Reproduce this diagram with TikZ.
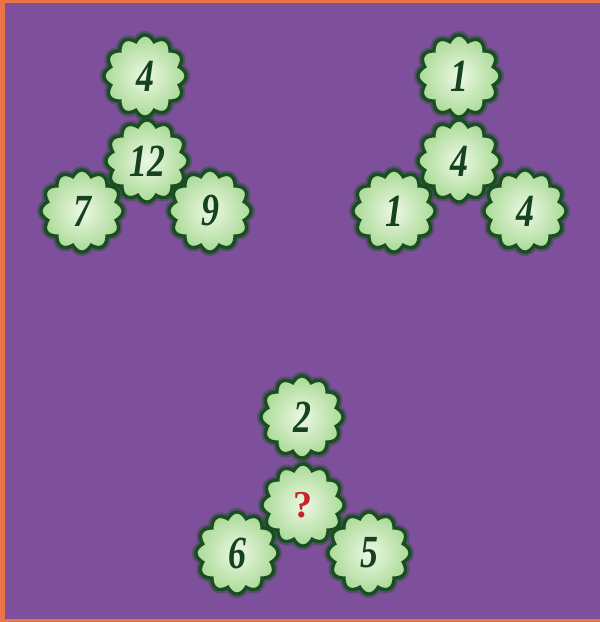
\documentclass[tikz,border=0pt]{standalone}
\usepackage{fontspec}
\setmainfont{Liberation Serif}
\newfontfamily\numfont[FakeStretch=0.78]{Liberation Serif}
\definecolor{bgpurple}{RGB}{126,80,155}
\definecolor{frameorange}{RGB}{234,116,70}
\definecolor{edge}{RGB}{24,78,34}
\definecolor{fillin}{RGB}{236,248,228}
\definecolor{fillout}{RGB}{170,218,150}
\definecolor{numgreen}{RGB}{22,66,32}
\definecolor{qred}{RGB}{196,36,40}
\tikzset{
  halo/.style={draw=edge, line width=8pt, draw opacity=0.4},
  petal/.style={inner color=fillin, outer color=fillout, draw=edge, line width=3.4pt},
  num/.style={text=numgreen, inner sep=0pt, font=\numfont\fontsize{46}{46}\selectfont\bfseries\itshape},
  qmark/.style={text=qred, inner sep=0pt, font=\fontsize{38}{38}\selectfont\bfseries},
}
\newcommand{\flowerpath}{plot[domain=0:360, samples=361, variable=\t] ({\t}:{35.5+5.5*abs(cos(6*\t))}) -- cycle}
\newcommand{\flower}[5]{% name, x, y, style, text
  \begin{scope}[shift={(#2,#3)}]
    \path[halo] \flowerpath;
    \path[petal] \flowerpath;
  \end{scope}
  \node[#4] (#1) at (#2,#3) {#5};
}
\begin{document}
\begin{tikzpicture}[x=1pt,y=1pt]
  \useasboundingbox (0,0) rectangle (600,-622);
  \fill[frameorange] (0,0) rectangle (600,-622);
  \fill[bgpurple] (5,-3) rectangle (600,-619);
  % group 1
  \flower{aL}{82}{-211}{num}{7}
  \flower{aR}{210}{-211}{num}{9}
  \flower{aT}{145}{-76}{num}{4}
  \flower{aC}{147}{-161}{num}{12}
  % group 2
  \flower{bL}{394}{-211}{num}{1}
  \flower{bR}{525}{-211}{num}{4}
  \flower{bT}{459}{-76}{num}{1}
  \flower{bC}{459}{-161}{num}{4}
  % group 3
  \flower{cL}{237}{-553}{num}{6}
  \flower{cR}{369}{-553}{num}{5}
  \flower{cT}{302}{-417}{num}{2}
  \flower{cC}{303}{-505}{qmark}{?}
\end{tikzpicture}
\end{document}
